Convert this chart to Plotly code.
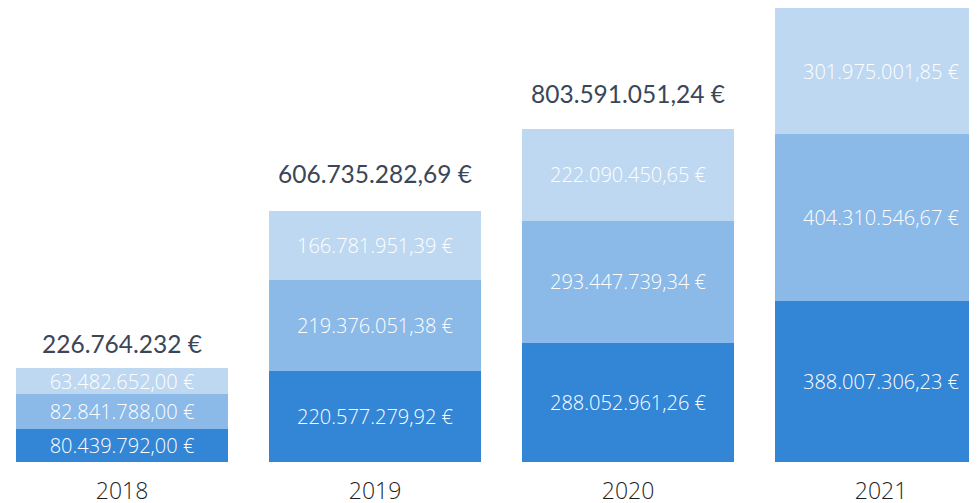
import plotly.graph_objects as go

years = ["2018", "2019", "2020", "2021"]
serie_a = [80439792.00, 220577279.92, 288052961.26, 388007306.23]
serie_b = [82841788.00, 219376051.38, 293447739.34, 404310546.67]
serie_c = [63482652.00, 166781951.39, 222090450.65, 301975001.85]
a_labels = ["80.439.792,00 €", "220.577.279,92 €", "288.052.961,26 €", "388.007.306,23 €"]
b_labels = ["82.841.788,00 €", "219.376.051,38 €", "293.447.739,34 €", "404.310.546,67 €"]
c_labels = ["63.482.652,00 €", "166.781.951,39 €", "222.090.450,65 €", "301.975.001,85 €"]
# 2021 total lies above the visible area in the reference, so it is not shown
total_labels = ["226.764.232 €", "606.735.282,69 €", "803.591.051,24 €"]

colors = ["#3385d6", "#8bb9e8", "#bed8f1"]
label_font = dict(family="Open Sans", size=20, color="white", weight=300)

fig = go.Figure()
for vals, labs, col in [(serie_a, a_labels, colors[0]), (serie_b, b_labels, colors[1]), (serie_c, c_labels, colors[2])]:
    fig.add_trace(go.Bar(
        x=years, y=vals, text=labs, textposition="inside", insidetextanchor="middle",
        textangle=0, constraintext="none", textfont=label_font,
        marker=dict(color=col, line=dict(width=0)), hoverinfo="skip",
    ))

totals = [a + b + c for a, b, c in zip(serie_a, serie_b, serie_c)]
shifts = [8, 21, 19]
for i, (tot, lab, sh) in enumerate(zip(totals, total_labels, shifts)):
    fig.add_annotation(x=i, y=tot, xref="x", yref="y", text=lab, showarrow=False,
                       yanchor="bottom", yshift=sh,
                       font=dict(family="Lato", size=24.5, color="#3b4658"))

fig.update_layout(
    barmode="stack", bargap=0.162, showlegend=False,
    width=977, height=503, margin=dict(l=0, r=0, t=0, b=49),
    plot_bgcolor="white", paper_bgcolor="white",
)
fig.update_xaxes(type="category", range=[-0.4506, 3.411], showgrid=False, showline=False,
                 zeroline=False,
                 tickfont=dict(family="Open Sans", size=23, color="#1e1e1e", weight=300),
                 ticklabelstandoff=13)
fig.update_yaxes(range=[0, 1095.3e6], visible=False, showgrid=False)

fig.write_html("out.html")
